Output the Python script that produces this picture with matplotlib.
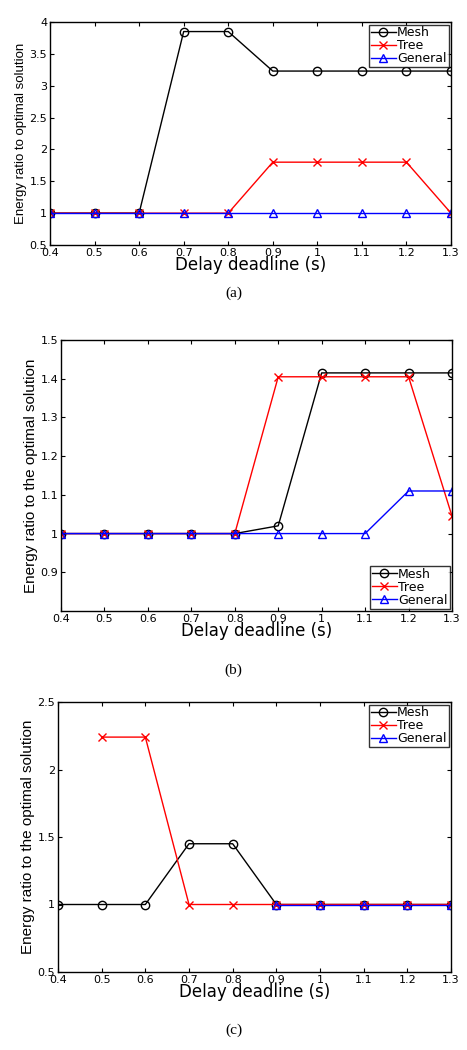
import matplotlib
matplotlib.use("Agg")
import matplotlib.pyplot as plt
import numpy as np

plt.rcParams['font.family'] = ['DejaVu Sans']

x = [0.4, 0.5, 0.6, 0.7, 0.8, 0.9, 1.0, 1.1, 1.2, 1.3]
xticklabels = ['0.4', '0.5', '0.6', '0.7', '0.8', '0.9', '1', '1.1', '1.2', '1.3']

# Panel (a)
mesh_a = [1, 1, 1, 3.85, 3.85, 3.23, 3.23, 3.23, 3.23, 3.23]
tree_a = [1, 1, 1, 1, 1, 1.8, 1.8, 1.8, 1.8, 1]
general_a = [1, 1, 1, 1, 1, 1, 1, 1, 1, 1]

# Panel (b)
mesh_b = [1, 1, 1, 1, 1, 1.02, 1.415, 1.415, 1.415, 1.415]
tree_b = [1, 1, 1, 1, 1, 1.405, 1.405, 1.405, 1.405, 1.045]
general_b = [1, 1, 1, 1, 1, 1, 1, 1, 1.11, 1.11]

# Panel (c)
nan = np.nan
mesh_c = [1, 1, 1, 1.45, 1.45, 1, 1, 1, 1, 1]
tree_c = [nan, 2.24, 2.24, 1, 1, 1, 1, 1, 1, 1]
general_c = [nan, nan, nan, nan, nan, 1, 1, 1, 1, 1]

W, H = 467, 1050
fig = plt.figure(figsize=(W / 100, H / 100), dpi=100)


def add_ax(l, t, r, b):
    return fig.add_axes([l / W, 1 - b / H, (r - l) / W, (b - t) / H])


def draw(ax, mesh, tree, general, ylim, yticks, yticklabels, ylabel, ylfs,
         legloc, caption, capy):
    ax.plot(x, mesh, color='black', marker='o', mfc='none', ms=6, lw=1, mew=1, label='Mesh')
    ax.plot(x, tree, color='red', marker='x', ms=6, lw=1, mew=1, label='Tree')
    ax.plot(x, general, color='blue', marker='^', mfc='none', ms=6, lw=1, mew=1, label='General')
    ax.set_xlim(0.4, 1.3)
    ax.set_ylim(*ylim)
    ax.set_xticks(x)
    ax.set_xticklabels(xticklabels)
    ax.set_yticks(yticks)
    ax.set_yticklabels(yticklabels)
    ax.tick_params(direction='in', top=True, right=True, labelsize=8, length=3, pad=2)
    ax.set_xlabel('Delay deadline (s)', fontsize=12, labelpad=-1)
    ax.set_ylabel(ylabel, fontsize=ylfs, labelpad=2,
                  family=['Liberation Sans', 'DejaVu Sans'])
    for s in ax.spines.values():
        s.set_linewidth(1)
    leg = ax.legend(loc=legloc, fontsize=9, frameon=True, fancybox=False,
                    edgecolor='black', borderpad=0.15, labelspacing=0.0,
                    handlelength=2.0, handleheight=0.6, handletextpad=0.1,
                    borderaxespad=0.2)
    leg.get_frame().set_linewidth(1)
    fig.text(0.5, capy, caption, ha='center', va='center', fontsize=11,
             family=['Liberation Serif', 'DejaVu Serif'])


ax1 = add_ax(50, 22, 451, 245)
draw(ax1, mesh_a, tree_a, general_a, (0.5, 4),
     [0.5, 1, 1.5, 2, 2.5, 3, 3.5, 4],
     ['0.5', '1', '1.5', '2', '2.5', '3', '3.5', '4'],
     'Energy ratio to optimal solution', 9.5, 'upper right', '(a)', 1 - 293 / H)

ax2 = add_ax(61, 340, 452, 611)
draw(ax2, mesh_b, tree_b, general_b, (0.8, 1.5),
     [0.9, 1.0, 1.1, 1.2, 1.3, 1.4, 1.5],
     ['0.9', '1', '1.1', '1.2', '1.3', '1.4', '1.5'],
     'Energy ratio to the optimal solution', 11, 'lower right', '(b)', 1 - 670 / H)

ax3 = add_ax(58, 702, 451, 972)
draw(ax3, mesh_c, tree_c, general_c, (0.5, 2.5),
     [0.5, 1, 1.5, 2, 2.5],
     ['0.5', '1', '1.5', '2', '2.5'],
     'Energy ratio to the optimal solution', 11, 'upper right', '(c)', 1 - 1030 / H)

fig.savefig('out.png', dpi=100)
